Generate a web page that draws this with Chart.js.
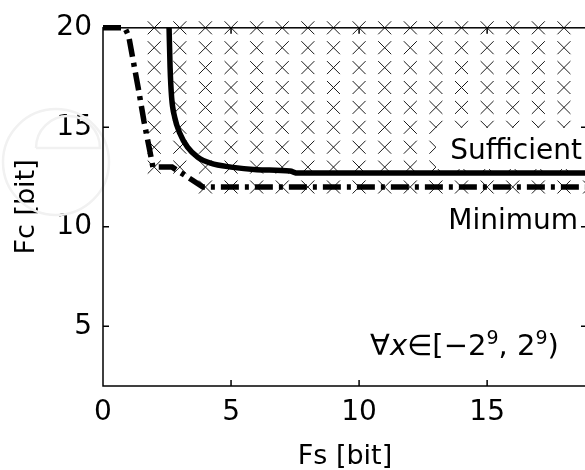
<!DOCTYPE html>
<html>
<head>
<meta charset="utf-8">
<title>Fs vs Fc</title>
<script src="https://cdn.jsdelivr.net/npm/chart.js"></script>
<style>
  html, body { margin: 0; padding: 0; background: #fff; overflow: hidden; }
</style>
</head>
<body>
<canvas id="chart" width="600" height="470"></canvas>
<script>
const xTicks = [0, 5, 10, 15];
const yTicks = [5, 10, 15, 20];

// "Sufficient" bound (solid)
const sufficientX = [2.58, 2.62, 2.68, 2.8, 3.0, 3.3, 3.7, 4.2, 5.0, 6.0, 7.3, 7.6, 18.9];
const sufficientY = [20, 18, 16.5, 15.5, 14.7, 14.0, 13.5, 13.2, 13.0, 12.87, 12.8, 12.7, 12.7];

// "Minimum" bound (dash-dot)
const minimumX = [0, 0.85, 1.0, 1.2, 1.4, 1.6, 1.8, 1.95, 2.7, 3.9, 18.9];
const minimumY = [20, 20, 19.6, 18.2, 16.8, 15.3, 14.0, 13.0, 13.0, 12.0, 12.0];

// feasible (Fs, Fc) grid points, marked with x: lowest Fc per Fs column
const gridFs = [2, 3, 4, 5, 6, 7, 8, 9, 10, 11, 12, 13, 14, 15, 16, 17, 18, 19];
const gridMinFc = [13, 13, 12, 12, 12, 12, 12, 12, 12, 12, 12, 12, 12, 12, 12, 12, 12, 12];
const gridMaxFc = 20;

const toPts = (xs, ys) => xs.map((x, i) => ({ x, y: ys[i] }));

const gridPts = [];
gridFs.forEach((fs, i) => {
  for (let fc = gridMinFc[i]; fc <= gridMaxFc; fc++) gridPts.push({ x: fs, y: fc });
});

const FONT = '"DejaVu Sans", sans-serif';

// faint logo watermark behind the plot
const watermark = {
  id: 'watermark',
  beforeDatasetsDraw(chart) {
    const { ctx } = chart;
    ctx.save();
    ctx.strokeStyle = '#f1f1f1';
    ctx.lineWidth = 2.5;
    ctx.beginPath();
    ctx.arc(56, 162, 53, 0, Math.PI * 2);
    ctx.stroke();
    ctx.beginPath();
    ctx.moveTo(36, 148);
    ctx.lineTo(100, 148);
    ctx.arc(68, 148, 32, 0, Math.PI, true);
    ctx.stroke();
    ctx.restore();
  }
};

// labels drawn on the plot
const notes = {
  id: 'notes',
  afterDatasetsDraw(chart) {
    const { ctx, scales: { x, y } } = chart;
    ctx.save();

    const bx = x.getPixelForValue(13);
    const bt = y.getPixelForValue(14.97);
    const bb = y.getPixelForValue(12.9);
    ctx.fillStyle = '#fff';
    ctx.fillRect(bx, bt, chart.width - bx, bb - bt);

    ctx.fillStyle = '#000';
    ctx.textBaseline = 'alphabetic';
    ctx.textAlign = 'right';
    ctx.font = '28px ' + FONT;
    ctx.fillText('Sufficient', x.getPixelForValue(18.7), y.getPixelForValue(13.39));
    ctx.fillText('Minimum', x.getPixelForValue(18.55), y.getPixelForValue(9.9));

    // ∀x∈[−2^9, 2^9)
    ctx.textAlign = 'left';
    let cx = x.getPixelForValue(10.43);
    const base = y.getPixelForValue(3.54);
    const parts = [
      ['\u2200', '29px ' + FONT, 0],
      ['x', 'italic 29px ' + FONT, 0],
      ['\u2208[\u22122', '29px ' + FONT, 0],
      ['9', '19px ' + FONT, 11],
      [', 2', '29px ' + FONT, 0],
      ['9', '19px ' + FONT, 11],
      [')', '29px ' + FONT, 0]
    ];
    parts.forEach(([t, f, up]) => {
      ctx.font = f;
      ctx.fillText(t, cx, base - up);
      cx += ctx.measureText(t).width;
    });
    ctx.restore();
  }
};

// box with inward ticks
const frame = {
  id: 'frame',
  afterDraw(chart) {
    const { ctx, chartArea: a, scales: { x, y } } = chart;
    ctx.save();
    ctx.strokeStyle = '#000';
    ctx.lineWidth = 1.5;
    ctx.strokeRect(a.left, a.top, a.right - a.left, a.bottom - a.top);
    ctx.beginPath();
    xTicks.forEach(v => {
      if (v === x.min) return;
      const px = x.getPixelForValue(v);
      ctx.moveTo(px, a.bottom); ctx.lineTo(px, a.bottom - 6);
      ctx.moveTo(px, a.top); ctx.lineTo(px, a.top + 6);
    });
    yTicks.forEach(v => {
      if (v === y.max) return;
      const py = y.getPixelForValue(v);
      ctx.moveTo(a.left, py); ctx.lineTo(a.left + 6, py);
      ctx.moveTo(a.right, py); ctx.lineTo(a.right - 6, py);
    });
    ctx.stroke();
    ctx.restore();
  }
};

new Chart(document.getElementById('chart'), {
  type: 'scatter',
  data: {
    datasets: [
      {
        label: 'Sufficient',
        data: toPts(sufficientX, sufficientY),
        showLine: true,
        borderColor: '#000',
        borderWidth: 5.5,
        pointRadius: 0,
        cubicInterpolationMode: 'monotone',
        clip: false
      },
      {
        label: 'Minimum',
        data: toPts(minimumX, minimumY),
        showLine: true,
        borderColor: '#000',
        borderWidth: 5.5,
        borderDash: [18, 6, 4, 6],
        pointRadius: 0,
        tension: 0,
        clip: false
      },
      {
        label: 'feasible',
        data: gridPts,
        showLine: false,
        pointStyle: 'crossRot',
        pointRadius: 9.2,
        borderColor: '#1a1a1a',
        borderWidth: 1,
        clip: false
      }
    ]
  },
  options: {
    responsive: false,
    animation: false,
    layout: { padding: { top: 24, right: 13, left: 0, bottom: 0 } },
    plugins: { legend: { display: false }, tooltip: { enabled: false } },
    scales: {
      x: {
        type: 'linear',
        min: 0,
        max: 18.9,
        afterBuildTicks: s => { s.ticks = xTicks.map(v => ({ value: v })); },
        afterFit: s => { s.height = 84; },
        grid: { display: false, drawTicks: false },
        border: { display: false },
        ticks: { color: '#000', font: { family: FONT, size: 28 }, padding: 10, maxRotation: 0 },
        title: { display: true, text: 'Fs [bit]', color: '#000', font: { family: FONT, size: 27, lineHeight: 1 }, padding: 0 }
      },
      y: {
        type: 'linear',
        min: 2,
        max: 20,
        afterBuildTicks: s => { s.ticks = yTicks.map(v => ({ value: v })); },
        afterFit: s => { s.width = 103; },
        grid: { display: false, drawTicks: false },
        border: { display: false },
        ticks: { color: '#000', font: { family: FONT, size: 28 }, padding: 11 },
        title: { display: true, text: 'Fc [bit]', color: '#000', font: { family: FONT, size: 27, lineHeight: 1 }, padding: { top: 13, bottom: 0 } }
      }
    }
  },
  plugins: [watermark, notes, frame]
});
</script>
</body>
</html>
